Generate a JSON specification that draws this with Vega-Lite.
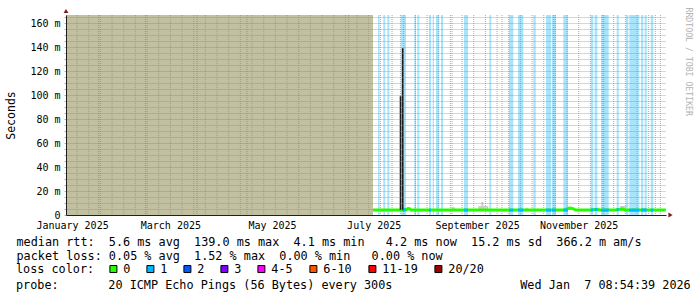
{
  "$schema": "https://vega.github.io/schema/vega-lite/v6.json",
  "width": 600,
  "height": 200,
  "autosize": {"type": "none"},
  "padding": {"left": 66, "top": 15, "right": 31, "bottom": 82},
  "background": "#ffffff",
  "config": {"view": {"stroke": null}, "font": "DejaVu Sans Mono"},
  "title": {
    "text": "probe:\u00a0\u00a0\u00a0\u00a0\u00a0\u00a0\u00a020 ICMP Echo Pings (56 Bytes) every 300s\u00a0\u00a0\u00a0\u00a0\u00a0\u00a0\u00a0\u00a0\u00a0\u00a0\u00a0\u00a0\u00a0\u00a0\u00a0\u00a0\u00a0\u00a0Wed Jan\u00a0\u00a07 08:54:39 2026",
    "orient": "bottom",
    "anchor": "start",
    "frame": "group",
    "dx": -50,
    "offset": 13,
    "baseline": "alphabetic",
    "font": "DejaVu Sans Mono",
    "fontSize": 11.8,
    "fontWeight": "normal",
    "color": "#000000"
  },
  "datasets": {
    "unknown": [{"from": "2025-01-12T08:54:39", "to": "2025-07-15T14:00:00"}],
    "xgridWeeks": [
      {"date": "2025-01-19"}, {"date": "2025-01-26"}, {"date": "2025-02-02"}, {"date": "2025-02-09"}, {"date": "2025-02-16"}, {"date": "2025-02-23"},
      {"date": "2025-03-02"}, {"date": "2025-03-09"}, {"date": "2025-03-16"}, {"date": "2025-03-23"}, {"date": "2025-03-30"},
      {"date": "2025-04-06"}, {"date": "2025-04-13"}, {"date": "2025-04-20"}, {"date": "2025-04-27"},
      {"date": "2025-05-04"}, {"date": "2025-05-11"}, {"date": "2025-05-18"}, {"date": "2025-05-25"},
      {"date": "2025-06-08"}, {"date": "2025-06-15"}, {"date": "2025-06-22"}, {"date": "2025-06-29"},
      {"date": "2025-07-06"}, {"date": "2025-07-13"}, {"date": "2025-07-20"}, {"date": "2025-07-27"},
      {"date": "2025-08-03"}, {"date": "2025-08-10"}, {"date": "2025-08-17"}, {"date": "2025-08-24"}, {"date": "2025-08-31"},
      {"date": "2025-09-07"}, {"date": "2025-09-14"}, {"date": "2025-09-21"}, {"date": "2025-09-28"},
      {"date": "2025-10-05"}, {"date": "2025-10-12"}, {"date": "2025-10-19"}, {"date": "2025-10-26"},
      {"date": "2025-11-02"}, {"date": "2025-11-09"}, {"date": "2025-11-16"}, {"date": "2025-11-23"}, {"date": "2025-11-30"},
      {"date": "2025-12-07"}, {"date": "2025-12-14"}, {"date": "2025-12-21"}, {"date": "2025-12-28"}, {"date": "2026-01-04"}
    ],
    "xgridMonths": [
      {"date": "2025-02-01"}, {"date": "2025-03-01"}, {"date": "2025-04-01"}, {"date": "2025-05-01"}, {"date": "2025-06-01"},
      {"date": "2025-07-01"}, {"date": "2025-08-01"}, {"date": "2025-09-01"}, {"date": "2025-10-01"}, {"date": "2025-11-01"},
      {"date": "2025-12-01"}, {"date": "2026-01-01"}
    ],
    "lossBands": [
      {"from": "2025-07-18T14:00:00", "to": "2025-07-19T12:00:00"},
      {"from": "2025-07-21T18:00:00", "to": "2025-07-22T23:00:00"},
      {"from": "2025-07-24T04:00:00", "to": "2025-07-25T09:00:00"},
      {"from": "2025-08-01T05:00:00", "to": "2025-08-04T09:00:00"},
      {"from": "2025-08-09T09:00:00", "to": "2025-08-10T09:00:00"},
      {"from": "2025-08-11T04:00:00", "to": "2025-08-12T09:00:00"},
      {"from": "2025-08-18T04:00:00", "to": "2025-08-19T09:00:00"},
      {"from": "2025-08-20T10:00:00", "to": "2025-08-21T04:00:00"},
      {"from": "2025-08-22T09:00:00", "to": "2025-08-24T04:00:00"},
      {"from": "2025-08-25T09:00:00", "to": "2025-08-26T14:00:00"},
      {"from": "2025-09-08T04:00:00", "to": "2025-09-10T14:00:00"},
      {"from": "2025-09-23T09:00:00", "to": "2025-09-24T13:00:00"},
      {"from": "2025-10-05T04:00:00", "to": "2025-10-07T18:00:00"},
      {"from": "2025-10-10T14:00:00", "to": "2025-10-13T18:00:00"},
      {"from": "2025-10-19T18:00:00", "to": "2025-10-21T05:00:00"},
      {"from": "2025-10-27T09:00:00", "to": "2025-10-30T09:00:00"},
      {"from": "2025-10-30T23:00:00", "to": "2025-11-02T09:00:00"},
      {"from": "2025-11-06T18:00:00", "to": "2025-11-09T14:00:00"},
      {"from": "2025-11-23T05:00:00", "to": "2025-11-24T18:00:00"},
      {"from": "2025-11-25T14:00:00", "to": "2025-11-27T04:00:00"},
      {"from": "2025-11-29T13:00:00", "to": "2025-12-04T00:00:00"},
      {"from": "2025-12-08T19:00:00", "to": "2025-12-10T00:00:00"},
      {"from": "2025-12-14T09:00:00", "to": "2025-12-15T18:00:00"},
      {"from": "2025-12-16T09:00:00", "to": "2025-12-22T09:00:00"},
      {"from": "2025-12-23T09:00:00", "to": "2025-12-24T18:00:00"},
      {"from": "2025-12-25T14:00:00", "to": "2025-12-26T19:00:00"},
      {"from": "2025-12-29T05:00:00", "to": "2025-12-30T18:00:00"}
    ],
    "smoke": [
      {"from": "2025-08-31T18:00:00", "to": "2025-09-02T18:00:00", "lo": 3.9, "hi": 6.5},
      {"from": "2025-09-16T18:00:00", "to": "2025-09-22T18:00:00", "lo": 3.9, "hi": 7.5},
      {"from": "2025-09-18T14:00:00", "to": "2025-09-19T18:00:00", "lo": 3.9, "hi": 11},
      {"from": "2025-10-15T05:00:00", "to": "2025-10-16T14:00:00", "lo": 3.9, "hi": 6},
      {"from": "2025-11-26T00:00:00", "to": "2025-11-27T18:00:00", "lo": 3.9, "hi": 6},
      {"from": "2025-12-10T18:00:00", "to": "2025-12-14T09:00:00", "lo": 3.9, "hi": 7.5},
      {"from": "2025-12-24T14:00:00", "to": "2025-12-26T09:00:00", "lo": 3.9, "hi": 6}
    ],
    "spikes": [
      {"date": "2025-08-01T02:00:00", "lo": 4.1, "hi": 99},
      {"date": "2025-08-02T09:30:00", "lo": 4.1, "hi": 139}
    ],
    "median": [
      {"date": "2025-07-15T14:00:00", "rtt": 4.2, "loss": "0"},
      {"date": "2025-07-18T00:00:00", "rtt": 4.1, "loss": "0"},
      {"date": "2025-07-21T00:00:00", "rtt": 4.1, "loss": "0"},
      {"date": "2025-07-24T00:00:00", "rtt": 4.2, "loss": "0"},
      {"date": "2025-07-27T00:00:00", "rtt": 4.1, "loss": "0"},
      {"date": "2025-07-30T00:00:00", "rtt": 4.1, "loss": "0"},
      {"date": "2025-08-02T00:00:00", "rtt": 4.2, "loss": "0"},
      {"date": "2025-08-04T12:00:00", "rtt": 4.3, "loss": "0"},
      {"date": "2025-08-05T12:00:00", "rtt": 5.4, "loss": "0"},
      {"date": "2025-08-06T12:00:00", "rtt": 5.2, "loss": "0"},
      {"date": "2025-08-07T12:00:00", "rtt": 4.2, "loss": "0"},
      {"date": "2025-08-10T00:00:00", "rtt": 4.1, "loss": "0"},
      {"date": "2025-08-13T00:00:00", "rtt": 4.1, "loss": "0"},
      {"date": "2025-08-16T00:00:00", "rtt": 4.2, "loss": "0"},
      {"date": "2025-08-19T00:00:00", "rtt": 4.1, "loss": "0"},
      {"date": "2025-08-22T00:00:00", "rtt": 4.1, "loss": "0"},
      {"date": "2025-08-25T00:00:00", "rtt": 4.2, "loss": "0"},
      {"date": "2025-08-28T00:00:00", "rtt": 4.1, "loss": "0"},
      {"date": "2025-08-31T00:00:00", "rtt": 4.1, "loss": "0"},
      {"date": "2025-09-03T00:00:00", "rtt": 4.2, "loss": "0"},
      {"date": "2025-09-06T00:00:00", "rtt": 4.1, "loss": "0"},
      {"date": "2025-09-09T00:00:00", "rtt": 4.1, "loss": "0"},
      {"date": "2025-09-12T00:00:00", "rtt": 4.1, "loss": "0"},
      {"date": "2025-09-15T00:00:00", "rtt": 4.2, "loss": "0"},
      {"date": "2025-09-18T00:00:00", "rtt": 4.2, "loss": "0"},
      {"date": "2025-09-21T00:00:00", "rtt": 4.1, "loss": "0"},
      {"date": "2025-09-24T00:00:00", "rtt": 4.1, "loss": "0"},
      {"date": "2025-09-27T00:00:00", "rtt": 4.1, "loss": "0"},
      {"date": "2025-09-30T00:00:00", "rtt": 4.2, "loss": "0"},
      {"date": "2025-10-03T00:00:00", "rtt": 4.1, "loss": "0"},
      {"date": "2025-10-06T00:00:00", "rtt": 4.1, "loss": "0"},
      {"date": "2025-10-09T00:00:00", "rtt": 4.1, "loss": "0"},
      {"date": "2025-10-12T00:00:00", "rtt": 4.2, "loss": "0"},
      {"date": "2025-10-15T00:00:00", "rtt": 4.1, "loss": "0"},
      {"date": "2025-10-18T00:00:00", "rtt": 4.1, "loss": "0"},
      {"date": "2025-10-21T00:00:00", "rtt": 4.1, "loss": "0"},
      {"date": "2025-10-24T00:00:00", "rtt": 4.2, "loss": "0"},
      {"date": "2025-10-27T00:00:00", "rtt": 4.1, "loss": "0"},
      {"date": "2025-10-30T00:00:00", "rtt": 4.1, "loss": "0"},
      {"date": "2025-11-02T00:00:00", "rtt": 4.1, "loss": "0"},
      {"date": "2025-11-05T00:00:00", "rtt": 4.2, "loss": "0"},
      {"date": "2025-11-08T00:00:00", "rtt": 4.2, "loss": "0"},
      {"date": "2025-11-09T12:00:00", "rtt": 5.7, "loss": "0"},
      {"date": "2025-11-11T00:00:00", "rtt": 5.8, "loss": "0"},
      {"date": "2025-11-12T12:00:00", "rtt": 5.3, "loss": "0"},
      {"date": "2025-11-14T00:00:00", "rtt": 4.3, "loss": "0"},
      {"date": "2025-11-17T00:00:00", "rtt": 4.1, "loss": "0"},
      {"date": "2025-11-20T00:00:00", "rtt": 4.1, "loss": "0"},
      {"date": "2025-11-23T00:00:00", "rtt": 4.1, "loss": "0"},
      {"date": "2025-11-26T00:00:00", "rtt": 4.6, "loss": "0"},
      {"date": "2025-11-27T12:00:00", "rtt": 4.5, "loss": "0"},
      {"date": "2025-11-29T00:00:00", "rtt": 4.1, "loss": "0"},
      {"date": "2025-12-02T00:00:00", "rtt": 4.1, "loss": "0"},
      {"date": "2025-12-05T00:00:00", "rtt": 4.1, "loss": "0"},
      {"date": "2025-12-08T00:00:00", "rtt": 4.2, "loss": "0"},
      {"date": "2025-12-11T00:00:00", "rtt": 4.8, "loss": "0"},
      {"date": "2025-12-12T12:00:00", "rtt": 4.9, "loss": "0"},
      {"date": "2025-12-14T00:00:00", "rtt": 4.2, "loss": "0"},
      {"date": "2025-12-17T00:00:00", "rtt": 4.1, "loss": "0"},
      {"date": "2025-12-20T00:00:00", "rtt": 4.1, "loss": "0"},
      {"date": "2025-12-23T00:00:00", "rtt": 4.1, "loss": "0"},
      {"date": "2025-12-26T00:00:00", "rtt": 4.2, "loss": "0"},
      {"date": "2025-12-29T00:00:00", "rtt": 4.1, "loss": "0"},
      {"date": "2026-01-01T00:00:00", "rtt": 4.1, "loss": "0"},
      {"date": "2026-01-04T00:00:00", "rtt": 4.1, "loss": "0"},
      {"date": "2026-01-07T06:00:00", "rtt": 4.2, "loss": "0"}
    ],
    "medianLoss": [
      {"seg": "b4", "date": "2025-08-02T10:00:00", "rtt": 4.2, "loss": "1"},
      {"seg": "b4", "date": "2025-08-04T09:00:00", "rtt": 4.3, "loss": "1"},
      {"seg": "b7", "date": "2025-08-18T04:00:00", "rtt": 4.1, "loss": "1"},
      {"seg": "b7", "date": "2025-08-19T09:00:00", "rtt": 4.1, "loss": "1"},
      {"seg": "b11", "date": "2025-09-08T04:00:00", "rtt": 4.1, "loss": "1"},
      {"seg": "b11", "date": "2025-09-10T14:00:00", "rtt": 4.1, "loss": "1"},
      {"seg": "b13", "date": "2025-10-05T04:00:00", "rtt": 4.1, "loss": "1"},
      {"seg": "b13", "date": "2025-10-07T18:00:00", "rtt": 4.1, "loss": "1"},
      {"seg": "b14", "date": "2025-10-10T14:00:00", "rtt": 4.1, "loss": "1"},
      {"seg": "b14", "date": "2025-10-13T18:00:00", "rtt": 4.2, "loss": "1"},
      {"seg": "b16", "date": "2025-10-27T09:00:00", "rtt": 4.1, "loss": "1"},
      {"seg": "b16", "date": "2025-10-30T09:00:00", "rtt": 4.1, "loss": "1"},
      {"seg": "b17", "date": "2025-10-30T23:00:00", "rtt": 4.1, "loss": "1"},
      {"seg": "b17", "date": "2025-11-02T09:00:00", "rtt": 4.1, "loss": "1"},
      {"seg": "b18", "date": "2025-11-06T18:00:00", "rtt": 4.2, "loss": "1"},
      {"seg": "b18", "date": "2025-11-09T14:00:00", "rtt": 4.2, "loss": "1"},
      {"seg": "b19", "date": "2025-11-23T05:00:00", "rtt": 4.1, "loss": "1"},
      {"seg": "b19", "date": "2025-11-24T18:00:00", "rtt": 4.3, "loss": "1"},
      {"seg": "b20", "date": "2025-11-25T14:00:00", "rtt": 4.5, "loss": "1"},
      {"seg": "b20", "date": "2025-11-27T04:00:00", "rtt": 4.55, "loss": "1"},
      {"seg": "b21", "date": "2025-11-29T13:00:00", "rtt": 4.1, "loss": "1"},
      {"seg": "b21", "date": "2025-12-04T00:00:00", "rtt": 4.1, "loss": "1"},
      {"seg": "b22", "date": "2025-12-08T19:00:00", "rtt": 4.3, "loss": "1"},
      {"seg": "b22", "date": "2025-12-10T00:00:00", "rtt": 4.6, "loss": "1"},
      {"seg": "b24", "date": "2025-12-16T09:00:00", "rtt": 4.1, "loss": "1"},
      {"seg": "b24", "date": "2025-12-22T09:00:00", "rtt": 4.1, "loss": "1"},
      {"seg": "b25", "date": "2025-12-23T09:00:00", "rtt": 4.1, "loss": "1"},
      {"seg": "b25", "date": "2025-12-26T19:00:00", "rtt": 4.15, "loss": "1"},
      {"seg": "b27", "date": "2025-12-29T05:00:00", "rtt": 4.1, "loss": "1"},
      {"seg": "b27", "date": "2025-12-30T18:00:00", "rtt": 4.1, "loss": "1"}
    ],
    "lossLevels": [
      {"loss": "0"}, {"loss": "1"}, {"loss": "2"}, {"loss": "3"},
      {"loss": "4-5"}, {"loss": "6-10"}, {"loss": "11-19"}, {"loss": "20/20"}
    ]
  },
  "resolve": {"axis": {"y": "independent"}},
  "layer": [
    {
      "data": {"name": "unknown"},
      "mark": {"type": "rect", "color": "#c1c0a0"},
      "encoding": {
        "x": {"field": "from", "type": "temporal"},
        "x2": {"field": "to"}
      }
    },
    {
      "data": {"name": "lossBands"},
      "mark": {"type": "rect", "color": "#aae4fb"},
      "encoding": {
        "x": {"field": "from", "type": "temporal"},
        "x2": {"field": "to"}
      }
    },
    {
      "data": {"name": "xgridWeeks"},
      "mark": {"type": "rule", "color": "#8f8f8f", "opacity": 0.75, "strokeWidth": 1, "strokeDash": [1, 1]},
      "encoding": {
        "x": {"field": "date", "type": "temporal"}
      }
    },
    {
      "data": {"name": "xgridMonths"},
      "mark": {"type": "rule", "color": "#de5050", "opacity": 0.6, "strokeWidth": 1, "strokeDash": [1, 1]},
      "encoding": {
        "x": {"field": "date", "type": "temporal"}
      }
    },
    {
      "data": {"name": "smoke"},
      "mark": {"type": "rect", "color": "#cdcdcd"},
      "encoding": {
        "x": {"field": "from", "type": "temporal"},
        "x2": {"field": "to"},
        "y": {"field": "lo", "type": "quantitative", "axis": null},
        "y2": {"field": "hi"}
      }
    },
    {
      "data": {"name": "median"},
      "mark": {"type": "line", "strokeWidth": 3, "strokeCap": "butt"},
      "encoding": {
        "x": {
          "field": "date",
          "type": "temporal",
          "scale": {
            "domain": [
              {"year": 2025, "month": 1, "date": 12, "hours": 8, "minutes": 54, "seconds": 39},
              {"year": 2026, "month": 1, "date": 7, "hours": 8, "minutes": 54, "seconds": 39}
            ],
            "nice": false
          },
          "axis": {
            "values": {"expr": "[datetime(2025,0,16),datetime(2025,2,16),datetime(2025,4,16),datetime(2025,6,16),datetime(2025,8,16),datetime(2025,10,16)]"},
            "format": "%B %Y",
            "title": [
              "median rtt:\u00a0\u00a05.6 ms avg\u00a0\u00a0139.0 ms max\u00a0\u00a04.1 ms min\u00a0\u00a0\u00a04.2 ms now\u00a0\u00a015.2 ms sd\u00a0\u00a0366.2 m am/s",
              "packet loss: 0.05 % avg\u00a0\u00a01.52 % max\u00a0\u00a00.00 % min\u00a0\u00a0\u00a00.00 % now"
            ],
            "titleFont": "DejaVu Sans Mono",
            "titleFontSize": 11.8,
            "titleFontWeight": "normal",
            "titleColor": "#000000",
            "titleLineHeight": 14.3,
            "titleX": -50,
            "titleY": 30,
            "titleAlign": "left",
            "titleBaseline": "alphabetic",
            "titleAngle": 0,
            "zindex": 1,
            "domainColor": "#1f1f1f",
            "domainWidth": 1,
            "grid": false,
            "ticks": false,
            "labelFont": "DejaVu Sans Mono",
            "labelFontSize": 10,
            "labelColor": "#000000",
            "labelPadding": 5,
            "labelOverlap": false,
            "labelFlush": false,
            "labelBound": false,
            "labelAngle": 0
          }
        },
        "y": {
          "field": "rtt",
          "type": "quantitative",
          "scale": {"domain": [0, 166.67], "nice": false, "zero": false},
          "axis": {
            "values": [0, 5, 10, 15, 20, 25, 30, 35, 40, 45, 50, 55, 60, 65, 70, 75, 80, 85, 90, 95, 100, 105, 110, 115, 120, 125, 130, 135, 140, 145, 150, 155, 160, 165],
            "title": "Seconds",
            "titleFont": "DejaVu Sans Mono",
            "titleFontSize": 11.5,
            "titleFontWeight": "normal",
            "titleColor": "#000000",
            "titleAngle": 270,
            "titleX": -55,
            "titleY": 100,
            "titleAlign": "center",
            "titleBaseline": "middle",
            "zindex": 1,
            "domainColor": "#1f1f1f",
            "domainWidth": 1,
            "grid": true,
            "gridDash": [1, 1],
            "gridWidth": 1,
            "gridColor": {"condition": {"test": "datum.value % 20 == 0", "value": "rgba(222,80,80,0.6)"}, "value": "rgba(143,143,143,0.75)"},
            "gridOpacity": {"condition": {"test": "datum.value > 0", "value": 1}, "value": 0},
            "ticks": true,
            "tickSize": 2,
            "tickColor": {"condition": {"test": "datum.value % 20 == 0", "value": "rgba(222,80,80,0.6)"}, "value": "rgba(143,143,143,0.75)"},
            "labelExpr": "datum.value % 20 == 0 ? (datum.value == 0 ? '0' : datum.value + ' m') : ''",
            "labelFont": "DejaVu Sans Mono",
            "labelFontSize": 10,
            "labelColor": "#000000",
            "labelPadding": 4,
            "labelOverlap": false,
            "labelFlush": false,
            "labelBound": false
          }
        },
        "stroke": {
          "field": "loss",
          "type": "nominal",
          "scale": {"domain": ["0", "1"], "range": ["#26ff00", "#00b8ff"]},
          "legend": null
        }
      }
    },
    {
      "data": {"name": "medianLoss"},
      "mark": {"type": "line", "strokeWidth": 3, "strokeCap": "butt"},
      "encoding": {
        "x": {"field": "date", "type": "temporal"},
        "y": {"field": "rtt", "type": "quantitative", "axis": null},
        "detail": {"field": "seg"},
        "stroke": {
          "field": "loss",
          "type": "nominal",
          "scale": {"domain": ["0", "1"], "range": ["#26ff00", "#00b8ff"]},
          "legend": null
        }
      }
    },
    {
      "data": {"name": "spikes"},
      "mark": {"type": "rule", "color": "#1b1b1b", "strokeWidth": 1.6},
      "encoding": {
        "x": {"field": "date", "type": "temporal"},
        "y": {
          "field": "lo",
          "type": "quantitative",
          "axis": {
            "orient": "right",
            "title": "RRDTOOL / TOBI OETIKER",
            "labels": false,
            "ticks": false,
            "domain": false,
            "grid": false,
            "titleAngle": 90,
            "titleFont": "DejaVu Sans Mono",
            "titleFontSize": 8.2,
            "titleFontWeight": "normal",
            "titleColor": "#b3b3b3",
            "titleX": 21,
            "titleY": -8,
            "titleAlign": "left",
            "titleBaseline": "middle"
          }
        },
        "y2": {"field": "hi"}
      }
    },
    {
      "data": {"name": "lossLevels"},
      "mark": {"type": "point", "shape": "square", "filled": true, "opacity": 0},
      "encoding": {
        "color": {
          "field": "loss",
          "type": "nominal",
          "scale": {
            "domain": ["0", "1", "2", "3", "4-5", "6-10", "11-19", "20/20"],
            "range": ["#26ff00", "#00b8ff", "#0059ff", "#7e00ff", "#ff00ff", "#ff5500", "#ff0000", "#a10000"]
          },
          "legend": {
            "title": "loss color:",
            "orient": "none",
            "legendX": -50,
            "legendY": 248,
            "direction": "horizontal",
            "titleOrient": "left",
            "titleFont": "DejaVu Sans Mono",
            "titleFontSize": 11.8,
            "titleFontWeight": "normal",
            "titleColor": "#000000",
            "titlePadding": 12.5,
            "labelFont": "DejaVu Sans Mono",
            "labelFontSize": 11.8,
            "labelColor": "#000000",
            "labelOffset": 4,
            "columnPadding": 14,
            "symbolType": "square",
            "symbolSize": 49,
            "symbolStrokeColor": "#000000",
            "symbolStrokeWidth": 1,
            "symbolOpacity": 1,
            "padding": 0
          }
        }
      }
    },
    {
      "data": {"values": [{}]},
      "mark": {"type": "point", "shape": "triangle-right", "filled": true, "color": "#7f1f1f", "size": 24, "xOffset": 4.5, "opacity": 1},
      "encoding": {
        "x": {"datum": {"year": 2026, "month": 1, "date": 7, "hours": 8, "minutes": 54, "seconds": 39}, "type": "temporal"},
        "y": {"datum": 0, "type": "quantitative", "axis": null}
      }
    },
    {
      "data": {"values": [{}]},
      "mark": {"type": "point", "shape": "triangle-up", "filled": true, "color": "#7f1f1f", "size": 24, "yOffset": -4, "opacity": 1},
      "encoding": {
        "x": {"datum": {"year": 2025, "month": 1, "date": 12, "hours": 8, "minutes": 54, "seconds": 39}, "type": "temporal"},
        "y": {"datum": 166.67, "type": "quantitative", "axis": null}
      }
    }
  ]
}
